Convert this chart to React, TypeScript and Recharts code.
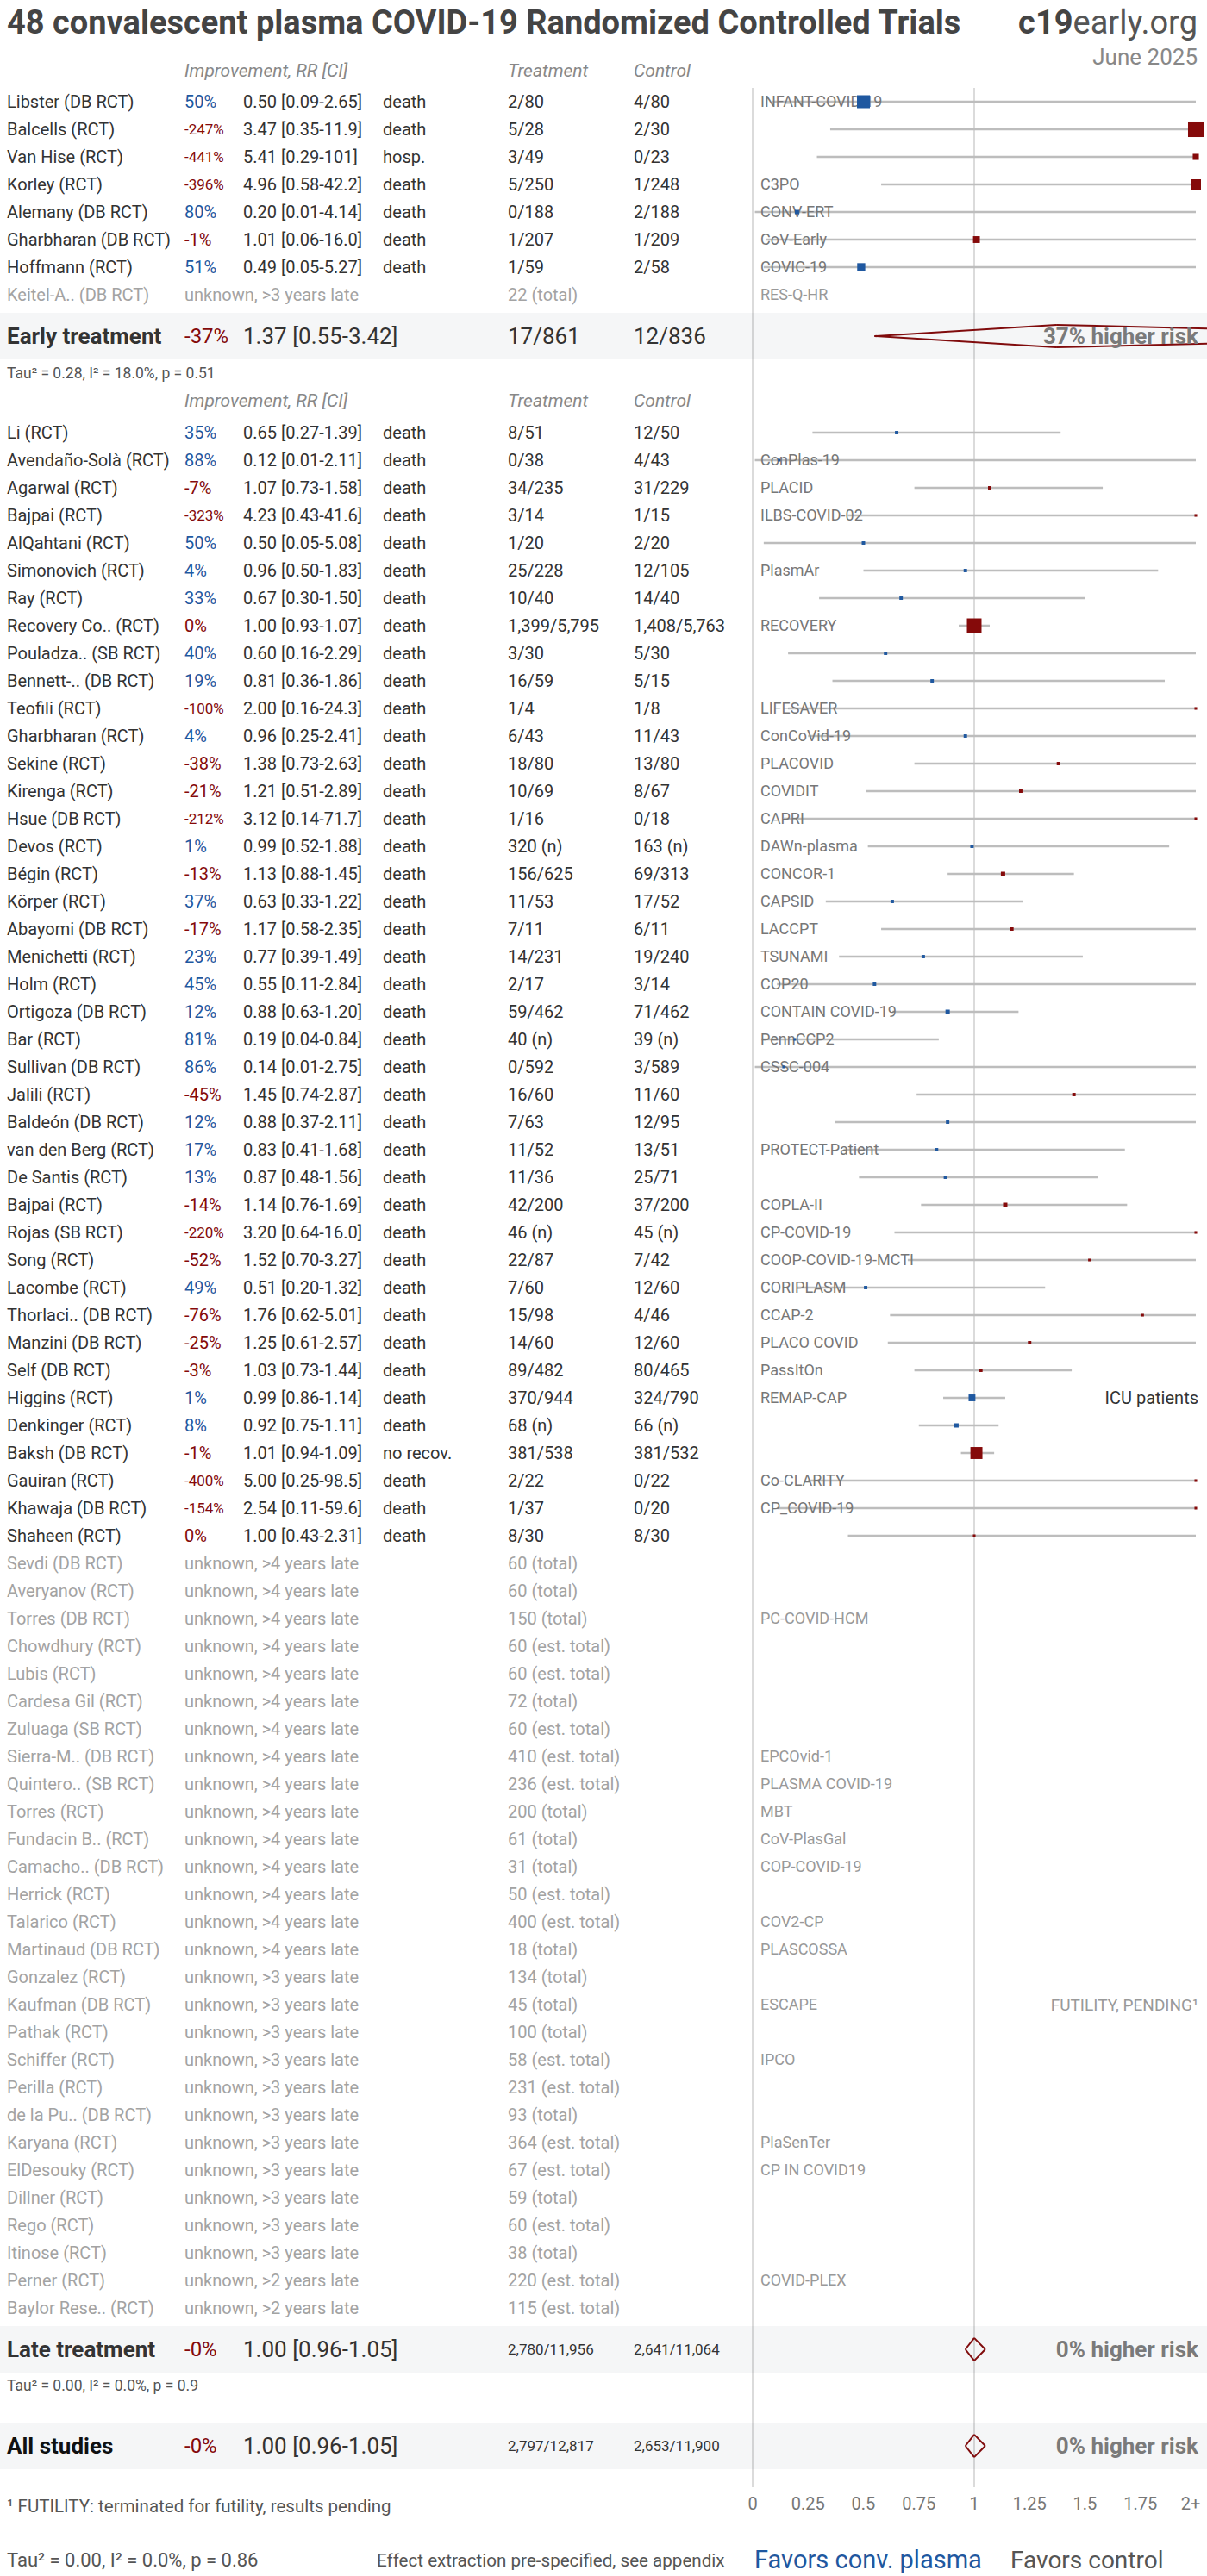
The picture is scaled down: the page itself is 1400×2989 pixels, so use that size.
import React from 'react'
import { ComposedChart, Scatter, XAxis, YAxis, ReferenceLine, ErrorBar } from 'recharts'

// early treatment studies
const earlyNames = ['Libster (DB RCT)', 'Balcells (RCT)', 'Van Hise (RCT)', 'Korley (RCT)', 'Alemany (DB RCT)', 'Gharbharan (DB RCT)', 'Hoffmann (RCT)']
const earlyRR = [0.5, 3.47, 5.41, 4.96, 0.2, 1.01, 0.49]
const earlyLo = [0.09, 0.35, 0.29, 0.58, 0.01, 0.06, 0.05]
const earlyHi = [2.65, 11.9, 101, 42.2, 4.14, 16.0, 5.27]
const earlyOutcome = ['death', 'death', 'hosp.', 'death', 'death', 'death', 'death']
const earlyTreat = ['2/80', '5/28', '3/49', '5/250', '0/188', '1/207', '1/59']
const earlyCtrl = ['4/80', '2/30', '0/23', '1/248', '2/188', '1/209', '2/58']
const earlyTrial = ['INFANT-COVID-19', '', '', 'C3PO', 'CONV-ERT', 'CoV-Early', 'COVIC-19']
const earlyWeight = [36, 52, 8, 23, 4, 10, 14]

const earlyPendingNames = ['Keitel-A.. (DB RCT)']
const earlyPendingLate = ['>3 years late']
const earlyPendingTotal = ['22 (total)']
const earlyPendingTrial = ['RES-Q-HR']

// late treatment studies
const lateNames = ['Li (RCT)', 'Avendaño-Solà (RCT)', 'Agarwal (RCT)', 'Bajpai (RCT)', 'AlQahtani (RCT)', 'Simonovich (RCT)', 'Ray (RCT)', 'Recovery Co.. (RCT)', 'Pouladza.. (SB RCT)', 'Bennett-.. (DB RCT)', 'Teofili (RCT)', 'Gharbharan (RCT)', 'Sekine (RCT)', 'Kirenga (RCT)', 'Hsue (DB RCT)', 'Devos (RCT)', 'Bégin (RCT)', 'Körper (RCT)', 'Abayomi (DB RCT)', 'Menichetti (RCT)', 'Holm (RCT)', 'Ortigoza (DB RCT)', 'Bar (RCT)', 'Sullivan (DB RCT)', 'Jalili (RCT)', 'Baldeón (DB RCT)', 'van den Berg (RCT)', 'De Santis (RCT)', 'Bajpai (RCT)', 'Rojas (SB RCT)', 'Song (RCT)', 'Lacombe (RCT)', 'Thorlaci.. (DB RCT)', 'Manzini (DB RCT)', 'Self (DB RCT)', 'Higgins (RCT)', 'Denkinger (RCT)', 'Baksh (DB RCT)', 'Gauiran (RCT)', 'Khawaja (DB RCT)', 'Shaheen (RCT)']
const lateRR = [0.65, 0.12, 1.07, 4.23, 0.5, 0.96, 0.67, 1.0, 0.6, 0.81, 2.0, 0.96, 1.38, 1.21, 3.12, 0.99, 1.13, 0.63, 1.17, 0.77, 0.55, 0.88, 0.19, 0.14, 1.45, 0.88, 0.83, 0.87, 1.14, 3.2, 1.52, 0.51, 1.76, 1.25, 1.03, 0.99, 0.92, 1.01, 5.0, 2.54, 1.0]
const lateLo = [0.27, 0.01, 0.73, 0.43, 0.05, 0.5, 0.3, 0.93, 0.16, 0.36, 0.16, 0.25, 0.73, 0.51, 0.14, 0.52, 0.88, 0.33, 0.58, 0.39, 0.11, 0.63, 0.04, 0.01, 0.74, 0.37, 0.41, 0.48, 0.76, 0.64, 0.7, 0.2, 0.62, 0.61, 0.73, 0.86, 0.75, 0.94, 0.25, 0.11, 0.43]
const lateHi = [1.39, 2.11, 1.58, 41.6, 5.08, 1.83, 1.5, 1.07, 2.29, 1.86, 24.3, 2.41, 2.63, 2.89, 71.7, 1.88, 1.45, 1.22, 2.35, 1.49, 2.84, 1.2, 0.84, 2.75, 2.87, 2.11, 1.68, 1.56, 1.69, 16.0, 3.27, 1.32, 5.01, 2.57, 1.44, 1.14, 1.11, 1.09, 98.5, 59.6, 2.31]
const lateTreat = ['8/51', '0/38', '34/235', '3/14', '1/20', '25/228', '10/40', '1,399/5,795', '3/30', '16/59', '1/4', '6/43', '18/80', '10/69', '1/16', '320 (n)', '156/625', '11/53', '7/11', '14/231', '2/17', '59/462', '40 (n)', '0/592', '16/60', '7/63', '11/52', '11/36', '42/200', '46 (n)', '22/87', '7/60', '15/98', '14/60', '89/482', '370/944', '68 (n)', '381/538', '2/22', '1/37', '8/30']
const lateCtrl = ['12/50', '4/43', '31/229', '1/15', '2/20', '12/105', '14/40', '1,408/5,763', '5/30', '5/15', '1/8', '11/43', '13/80', '8/67', '0/18', '163 (n)', '69/313', '17/52', '6/11', '19/240', '3/14', '71/462', '39 (n)', '3/589', '11/60', '12/95', '13/51', '25/71', '37/200', '45 (n)', '7/42', '12/60', '4/46', '12/60', '80/465', '324/790', '66 (n)', '381/532', '0/22', '0/20', '8/30']
const lateTrial = ['', 'ConPlas-19', 'PLACID', 'ILBS-COVID-02', '', 'PlasmAr', '', 'RECOVERY', '', '', 'LIFESAVER', 'ConCoVid-19', 'PLACOVID', 'COVIDIT', 'CAPRI', 'DAWn-plasma', 'CONCOR-1', 'CAPSID', 'LACCPT', 'TSUNAMI', 'COP20', 'CONTAIN COVID-19', 'PennCCP2', 'CSSC-004', '', '', 'PROTECT-Patient', '', 'COPLA-II', 'CP-COVID-19', 'COOP-COVID-19-MCTI', 'CORIPLASM', 'CCAP-2', 'PLACO COVID', 'PassItOn', 'REMAP-CAP', '', '', 'Co-CLARITY', 'CP_COVID-19', '']
const lateWeight = [2.5, 1.5, 2.5, 1.5, 2.5, 2.5, 2.5, 46, 2.5, 2.5, 1.5, 2.5, 2.5, 2.5, 1.5, 2.5, 4, 2.5, 2.5, 2.5, 2.5, 4, 1.5, 1.5, 2.5, 2.5, 2.5, 2.5, 4, 1.5, 1.5, 2.5, 1.5, 2.5, 2.5, 10, 4, 31, 1.5, 1.5, 1.5]
const lateNote: Record<number, string> = { 35: 'ICU patients' }
const lateOutcome: Record<number, string> = { 37: 'no recov.' }

const latePendingNames = ['Sevdi (DB RCT)', 'Averyanov (RCT)', 'Torres (DB RCT)', 'Chowdhury (RCT)', 'Lubis (RCT)', 'Cardesa Gil (RCT)', 'Zuluaga (SB RCT)', 'Sierra-M.. (DB RCT)', 'Quintero.. (SB RCT)', 'Torres (RCT)', 'Fundacin B.. (RCT)', 'Camacho.. (DB RCT)', 'Herrick (RCT)', 'Talarico (RCT)', 'Martinaud (DB RCT)', 'Gonzalez (RCT)', 'Kaufman (DB RCT)', 'Pathak (RCT)', 'Schiffer (RCT)', 'Perilla (RCT)', 'de la Pu.. (DB RCT)', 'Karyana (RCT)', 'ElDesouky (RCT)', 'Dillner (RCT)', 'Rego (RCT)', 'Itinose (RCT)', 'Perner (RCT)', 'Baylor Rese.. (RCT)']
const latePendingYears = [4, 4, 4, 4, 4, 4, 4, 4, 4, 4, 4, 4, 4, 4, 4, 3, 3, 3, 3, 3, 3, 3, 3, 3, 3, 3, 2, 2]
const latePendingTotal = ['60 (total)', '60 (total)', '150 (total)', '60 (est. total)', '60 (est. total)', '72 (total)', '60 (est. total)', '410 (est. total)', '236 (est. total)', '200 (total)', '61 (total)', '31 (total)', '50 (est. total)', '400 (est. total)', '18 (total)', '134 (total)', '45 (total)', '100 (total)', '58 (est. total)', '231 (est. total)', '93 (total)', '364 (est. total)', '67 (est. total)', '59 (total)', '60 (est. total)', '38 (total)', '220 (est. total)', '115 (est. total)']
const latePendingTrial = ['', '', 'PC-COVID-HCM', '', '', '', '', 'EPCOvid-1', 'PLASMA COVID-19', 'MBT', 'CoV-PlasGal', 'COP-COVID-19', '', 'COV2-CP', 'PLASCOSSA', '', 'ESCAPE', '', 'IPCO', '', '', 'PlaSenTer', 'CP IN COVID19', '', '', '', 'COVID-PLEX', '']
const latePendingNote: Record<number, string> = { 16: 'FUTILITY, PENDING¹' }

// pooled results
const summaryLabels = ['Early treatment', 'Late treatment', 'All studies']
const summaryRR = [1.37, 1.0, 1.0]
const summaryLo = [0.55, 0.96, 0.96]
const summaryHi = [3.42, 1.05, 1.05]
const summaryImpr = ['-37%', '-0%', '-0%']
const summaryTreat = ['17/861', '2,780/11,956', '2,797/12,817']
const summaryCtrl = ['12/836', '2,641/11,064', '2,653/11,900']
const summaryRisk = ['37% higher risk', '0% higher risk', '0% higher risk']
const tauTexts = ['Tau² = 0.28, I² = 18.0%, p = 0.51', 'Tau² = 0.00, I² = 0.0%, p = 0.9']

const xTicks = [0, 0.25, 0.5, 0.75, 1, 1.25, 1.5, 1.75, 2]

const FONT = 'Roboto, sans-serif'
const BLUE = '#1f58a0'
const RED = '#850a0a'
const DARK = '#333'
const W = 1400
const H = 2989

const fmt = (v: number) => (v < 10 ? v.toFixed(2) : v < 100 ? v.toFixed(1) : v.toFixed(0))
const clamp = (v: number) => Math.min(2, Math.max(0, v))

type Row = { y: number; kind: string; [k: string]: any }
const rows: Row[] = []
const marks: any[] = []

const addStudy = (y: number, name: string, rr: number, lo: number, hi: number, outcome: string, treat: string, ctrl: string, trial: string, weight: number, note?: string) => {
  rows.push({ y, x: 0, kind: 'study', name, rr, lo, hi, outcome, treat, ctrl, trial, note })
  const x = clamp(rr)
  marks.push({ x, y, err: [x - clamp(lo), clamp(hi) - x], weight, rr })
}

rows.push({ y: -1.125, x: 0, kind: 'header' })
earlyNames.forEach((n, i) =>
  addStudy(i, n, earlyRR[i], earlyLo[i], earlyHi[i], earlyOutcome[i], earlyTreat[i], earlyCtrl[i], earlyTrial[i], earlyWeight[i]))
earlyPendingNames.forEach((n, i) =>
  rows.push({ y: earlyNames.length + i, x: 0, kind: 'pending', name: n, late: earlyPendingLate[i], total: earlyPendingTotal[i], trial: earlyPendingTrial[i] }))
rows.push({ y: 8.5, x: 0, kind: 'summary', idx: 0 })
rows.push({ y: 9.84, x: 0, kind: 'tau', text: tauTexts[0] })
rows.push({ y: 10.84, x: 0, kind: 'header' })
lateNames.forEach((n, i) =>
  addStudy(12 + i, n, lateRR[i], lateLo[i], lateHi[i], lateOutcome[i] || 'death', lateTreat[i], lateCtrl[i], lateTrial[i], lateWeight[i], lateNote[i]))
latePendingNames.forEach((n, i) =>
  rows.push({ y: 12 + lateNames.length + i, x: 0, kind: 'pending', name: n, late: `>${latePendingYears[i]} years late`, total: latePendingTotal[i], trial: latePendingTrial[i], note: latePendingNote[i] }))
rows.push({ y: 81.5, x: 0, kind: 'summary', idx: 1 })
rows.push({ y: 82.8, x: 0, kind: 'tau', text: tauTexts[1] })
rows.push({ y: 85, x: 0, kind: 'summary', idx: 2 })

const summarySlots = [8.5, 81.5, 85]
const DH = 0.41 // diamond half height in rows

const COL = { name: 8, impr: 214, rr: 282, outcome: 444, treat: 589, ctrl: 735, trial: 882, right: 1390 }

function RowShape(props: any) {
  const { cy, payload: r } = props
  const t = (x: number, s: string, o: any = {}) => (
    <text x={x} y={cy} dy="0.35em" fontFamily={FONT} fontSize={20} fill={DARK} {...o}>{s}</text>
  )
  if (r.kind === 'header') {
    const o = { fill: '#888', fontStyle: 'italic', fontSize: 21 }
    return (
      <g>
        {t(COL.impr, 'Improvement, RR [CI]', o)}
        {t(COL.treat, 'Treatment', o)}
        {t(COL.ctrl, 'Control', o)}
      </g>
    )
  }
  if (r.kind === 'study') {
    const imp = Math.round((1 - r.rr) * 100)
    const impTxt = `${imp}%`
    return (
      <g>
        {t(COL.name, r.name)}
        {t(COL.impr, impTxt, { fill: r.rr >= 1 ? RED : BLUE, fontSize: impTxt.length > 4 ? 17 : 20 })}
        {t(COL.rr, `${fmt(r.rr)} [${fmt(r.lo)}-${fmt(r.hi)}]`)}
        {t(COL.outcome, r.outcome)}
        {t(COL.treat, r.treat)}
        {t(COL.ctrl, r.ctrl)}
        {r.trial && t(COL.trial, r.trial, { fill: '#777', fontSize: 18 })}
        {r.note && t(COL.right, r.note, { textAnchor: 'end' })}
      </g>
    )
  }
  if (r.kind === 'pending') {
    const o = { fill: '#a3a3a3' }
    return (
      <g>
        {t(COL.name, r.name, o)}
        {t(COL.impr, `unknown, ${r.late}`, o)}
        {t(COL.treat, r.total, o)}
        {r.trial && t(COL.trial, r.trial, { fill: '#999', fontSize: 18 })}
        {r.note && t(COL.right, r.note, { fill: '#999', fontSize: 19, textAnchor: 'end' })}
      </g>
    )
  }
  if (r.kind === 'summary') {
    const i = r.idx
    const small = summaryTreat[i].length > 8
    return (
      <g>
        <rect x={0} y={cy - 27} width={W} height={54} fill="rgba(20,40,80,0.045)" />
        {t(COL.name, summaryLabels[i], { fontWeight: 700, fontSize: 26, fill: i === 2 ? '#111' : DARK })}
        {t(COL.impr, summaryImpr[i], { fill: RED, fontSize: 24 })}
        {t(COL.rr, `${summaryRR[i].toFixed(2)} [${summaryLo[i].toFixed(2)}-${summaryHi[i].toFixed(2)}]`, { fontSize: 26 })}
        {t(COL.treat, summaryTreat[i], { fontSize: small ? 17 : 26 })}
        {t(COL.ctrl, summaryCtrl[i], { fontSize: small ? 17 : 26 })}
        {t(COL.right, summaryRisk[i], { fontWeight: 700, fontSize: 26, fill: '#7a7a7a', textAnchor: 'end' })}
      </g>
    )
  }
  if (r.kind === 'tau') {
    return <g>{t(COL.name, r.text, { fontSize: 17.5, fill: '#555' })}</g>
  }
  return <g />
}

function Square(props: any) {
  const { cx, cy, payload } = props
  const s = Math.max(3, 2.5 * Math.sqrt(payload.weight))
  return <rect x={cx - s / 2} y={cy - s / 2} width={s} height={s} fill={payload.rr >= 1 ? RED : BLUE} />
}

function Tick(props: any) {
  const { x, y, payload } = props
  const v = payload.value
  return (
    <text x={v === 2 ? x - 6 : x} y={y} dy="0.71em" textAnchor="middle" fontFamily={FONT} fontSize={20} fill="#777">
      {v === 2 ? '2+' : String(v)}
    </text>
  )
}

export default function App() {
  return (
    <div style={{ position: 'relative', width: W, height: H, background: '#fff', fontFamily: FONT }}>
      <style>{'body{margin:0}'}</style>
      <ComposedChart width={W} height={H} margin={{ top: 6, right: 13, bottom: 0, left: 873 }}>
        <XAxis xAxisId="main" type="number" dataKey="x" domain={[0, 2]} ticks={xTicks} axisLine={false} tickLine={false}
          tickSize={6} tickMargin={6} height={103} tick={<Tick />} interval={0} />
        <XAxis xAxisId="txt" type="number" dataKey="x" domain={[0, 1]} hide />
        <YAxis type="number" dataKey="y" domain={[-3.5, 86.5]} reversed hide />
        <ReferenceLine xAxisId="main" segment={[{ x: 0, y: -0.5 }, { x: 0, y: 86.5 }]} stroke="#cfcfcf" strokeWidth={1.5} />
        <ReferenceLine xAxisId="main" segment={[{ x: 1, y: -0.5 }, { x: 1, y: 86.5 }]} stroke="#cfcfcf" strokeWidth={1.5} />
        <Scatter xAxisId="txt" data={rows} shape={<RowShape />} isAnimationActive={false} />
        <Scatter xAxisId="main" data={marks} shape={<Square />} isAnimationActive={false}>
          <ErrorBar dataKey="err" direction="x" width={0} stroke="#bdbdbd" strokeWidth={2.5} isAnimationActive={false} />
        </Scatter>
        {summarySlots.map((y, i) => {
          const lo = summaryLo[i], hi = summaryHi[i], rr = summaryRR[i]
          const segs = [
            [{ x: lo, y }, { x: rr, y: y - DH }],
            [{ x: rr, y: y - DH }, { x: hi, y }],
            [{ x: hi, y }, { x: rr, y: y + DH }],
            [{ x: rr, y: y + DH }, { x: lo, y }],
          ]
          return segs.map((s, j) => (
            <ReferenceLine key={`d${i}-${j}`} xAxisId="main" segment={s} stroke={RED} strokeWidth={2} ifOverflow="visible" />
          ))
        })}
      </ComposedChart>
      <svg width={W} height={H} style={{ position: 'absolute', left: 0, top: 0, pointerEvents: 'none' }}>
        <text x={8} y={39} fontFamily={FONT} fontSize={38} fontWeight={700} fill="#444">48 convalescent plasma COVID-19 Randomized Controlled Trials</text>
        <text x={1389} y={39} textAnchor="end" fontFamily={FONT} fontSize={38} fill="#555">
          <tspan fontWeight={700} fill="#444">c19</tspan>early.org
        </text>
        <text x={1389} y={75} textAnchor="end" fontFamily={FONT} fontSize={26} fill="#888">June 2025</text>
        <text x={8} y={2915} fontFamily={FONT} fontSize={20.5} fill="#555">¹ FUTILITY: terminated for futility, results pending</text>
        <text x={8} y={2978} fontFamily={FONT} fontSize={22} fill="#555">Tau² = 0.00, I² = 0.0%, p = 0.86</text>
        <text x={437} y={2978} fontFamily={FONT} fontSize={20.6} fill="#555">Effect extraction pre-specified, see appendix</text>
        <text x={875} y={2980} fontFamily={FONT} fontSize={29} fill={BLUE}>Favors conv. plasma</text>
        <text x={1172} y={2980} fontFamily={FONT} fontSize={28} fill="#555">Favors control</text>
      </svg>
    </div>
  )
}
